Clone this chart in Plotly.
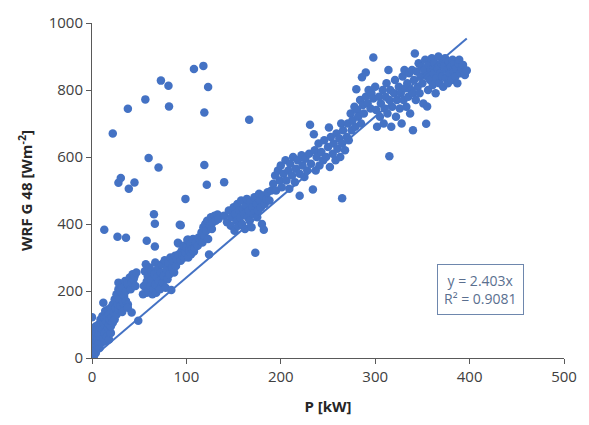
import plotly.graph_objects as go

outliers = [
    (13, 383), (22, 670), (38, 744), (28, 523), (30.5, 537), (39, 505), (45, 524),
    (27, 362), (36, 359), (56.5, 772), (60, 597), (70.5, 569), (73, 828), (81, 813),
    (81.6, 751), (65.6, 429), (66.6, 401), (58, 350), (66.6, 333), (99, 475),
    (94, 396), (91.6, 342), (102, 353), (108, 863), (118, 872), (123, 809),
    (119, 733), (119, 576), (121.6, 517), (140, 525), (166.5, 711),
]

band_low = [
    (0, 0), (0, 8), (0, 20), (0, 35), (0, 122), (0.5, 50), (1, 12), (1, 28), (1, 60),
    (1.5, 40), (2, 5), (2, 18), (2, 70), (2.5, 45), (3, 30), (3, 55), (3, 82), (4, 15),
    (4, 40), (4, 65), (4, 95), (5, 25), (5, 50), (5, 75), (6, 35), (6, 60), (6, 88),
    (7, 45), (7, 70), (7, 100), (8, 30), (8, 55), (8, 80), (9, 62), (9, 90), (9, 115),
    (10, 45), (10, 72), (10, 100), (11, 85), (11, 125), (12, 60), (12, 165), (12, 105),
    (13, 75), (13, 120), (14, 50), (14, 95), (14, 140), (15, 80), (15, 110), (16, 65),
    (16, 125), (17, 90), (17, 145), (18, 55), (18, 100), (18, 130), (19, 115), (20, 75),
    (20, 95), (20, 150), (21, 120), (22, 105), (22, 160), (23, 135), (24, 115),
    (24, 175), (25, 150), (26, 130), (26, 190), (27, 160), (28, 145), (28, 205),
    (29, 175), (30, 155), (30, 215), (28, 225), (30, 200), (32, 210), (34, 185),
    (35, 230), (36, 200), (38, 220), (40, 240), (41, 205), (42, 225), (43, 250),
    (44, 235), (45, 244), (46, 215), (47, 255), (33, 165), (36, 170), (38, 160),
    (32, 137), (42, 136), (49, 111), (38, 150),
]

band_mid = [
    (54, 190), (55, 215), (56, 259), (57, 280), (58, 195), (58, 228), (59, 245),
    (60, 200), (61, 270), (62, 215), (63, 232), (63, 260), (64, 190), (65, 205),
    (66, 250), (67, 285), (67, 220), (68, 195), (69, 240), (70, 268), (70, 215),
    (71, 230), (72, 205), (73, 255), (74, 280), (75, 225), (76, 245), (77, 292),
    (78, 210), (79, 265), (80, 235), (81, 285), (82, 250), (83, 300), (84, 203),
    (85, 270), (86, 290), (87, 255), (88, 305), (89, 275), (90, 295),
    (91, 344), (92, 310), (93, 398), (94, 290), (95, 320), (96, 305), (97, 335),
    (98, 300), (99, 315), (100, 330), (101, 353), (102, 300), (103, 320), (104, 340),
    (105, 310), (106, 325), (107, 355), (108, 318), (109, 329), (110, 345), (112, 335),
    (113, 360), (115, 350), (116, 375), (117, 345), (118, 390), (119, 365), (120, 400),
    (121, 380), (122, 410), (123, 355), (124, 309), (125, 395), (126, 420), (127, 385),
    (128, 405), (130, 425), (131, 410), (133, 428), (134, 415),
    (140, 425), (143, 405), (145, 440), (147, 395), (148, 420), (150, 450), (151, 380),
    (152, 430), (153, 410), (154, 460), (155, 395), (156, 440), (157, 420), (158, 470),
    (159, 400), (160, 445), (161, 430), (162, 385), (163, 455), (164, 475), (165, 420),
    (166, 440), (167, 410), (168, 465), (169, 390), (170, 450), (171, 430), (172, 480),
    (173, 314), (174, 460), (175, 420), (176, 440), (177, 490), (178, 470), (179, 450),
    (180, 400), (181, 485), (182, 383), (183, 460), (185, 475), (186, 495), (188, 470),
    (190, 500),
]

band_upper = [
    (192, 520), (194, 545), (195, 500), (197, 560), (199, 530), (200, 575), (201, 510),
    (203, 550), (205, 590), (206, 530), (208, 560), (209, 505), (210, 580), (212, 545),
    (213, 600), (215, 525), (216, 565), (218, 590), (220, 484), (220, 550), (222, 605),
    (223, 575), (225, 540), (226, 595), (228, 560), (230, 610),
    (231, 696), (232, 580), (234, 503), (235, 668), (236, 620), (237, 560), (238, 600),
    (240, 640), (241, 575), (243, 615), (245, 590), (246, 650), (248, 600), (250, 630),
    (251, 688), (252, 570), (253, 660), (255, 610), (256, 640), (258, 590), (259, 670),
    (260, 625), (262, 655), (263, 600), (264, 700), (265, 477), (265, 640), (266, 680),
    (268, 620), (270, 660),
    (271, 700), (272, 650), (274, 730), (275, 680), (276, 710), (278, 750), (279, 690),
    (280, 802), (281, 740), (282, 720), (284, 770), (285, 700), (286, 838), (287, 755),
    (288, 730), (290, 852), (290, 780), (292, 760), (293, 800), (295, 745), (296, 790),
    (298, 897), (298, 775), (300, 810),
]

band_high = [
    (301, 740), (302, 690), (304, 780), (305, 720), (306, 760), (308, 800), (309, 700),
    (310, 745), (311, 780), (312, 820), (313, 730), (314, 860), (315, 602), (315, 770),
    (316, 800), (317, 690), (318, 750), (320, 790), (321, 830), (322, 720), (323, 770),
    (325, 810), (326, 745), (327, 790), (328, 700), (329, 840), (330, 770), (331, 860),
    (332, 805), (333, 750), (334, 820), (335, 780), (336, 850), (337, 730), (338, 800),
    (339, 860), (340, 680), (340, 790),
    (341, 830), (342, 909), (343, 770), (344, 855), (345, 810), (346, 880), (347, 790),
    (348, 840), (349, 870), (350, 820), (351, 760), (352, 860), (353, 890), (354, 699),
    (355, 751), (355, 840), (356, 800), (357, 875), (358, 830), (359, 860), (360, 895),
    (361, 815), (362, 850), (363, 880), (364, 790), (365, 835), (366, 865), (367, 900),
    (368, 820), (369, 850), (370, 880), (371, 840), (372, 810), (373, 870), (374, 895),
    (375, 835), (376, 860), (377, 820), (378, 885), (379, 850), (380, 870), (381, 830),
    (382, 890), (383, 855), (384, 877), (385, 840), (386, 865), (387, 820), (388, 880),
    (389, 890), (390, 850), (392, 862), (393, 875), (395, 845), (397, 858),
]

trend_slope = 2.403
trend_x = [0, 397]
r2_text = "0.9081"

x_ticks = [0, 100, 200, 300, 400, 500]
y_ticks = [0, 200, 400, 600, 800, 1000]

points = outliers + band_low + band_mid + band_upper + band_high
px = [p[0] for p in points]
py = [p[1] for p in points]

BLUE = "#4472C4"
AXIS = "#595959"
FONT = "Open Sans"

fig = go.Figure()
fig.add_trace(go.Scatter(
    x=px, y=py, mode="markers",
    marker=dict(color=BLUE, size=8.5, line=dict(width=0)),
    showlegend=False, hoverinfo="x+y",
))
fig.add_trace(go.Scatter(
    x=trend_x, y=[trend_slope * v for v in trend_x], mode="lines",
    line=dict(color=BLUE, width=2), showlegend=False, hoverinfo="skip",
))

fig.add_annotation(
    x=412, y=205, xref="x", yref="y",
    text=f"y = {trend_slope}x<br>R² = {r2_text}",
    showarrow=False, align="center",
    font=dict(family=FONT, size=14, color="#5A6F8F"),
    bordercolor="#6E87AD", borderwidth=1, borderpad=6, bgcolor="white",
)

fig.update_xaxes(
    range=[0, 500], tickvals=x_ticks, ticks="outside", ticklen=5, tickcolor=AXIS,
    showline=True, linecolor=AXIS, linewidth=1, showgrid=False, zeroline=False,
    tickfont=dict(family=FONT, size=15, color="#404040"),
    title=dict(text="<b>P [kW]</b>", font=dict(family=FONT, size=15, color="#262626"),
               standoff=16),
)
fig.update_yaxes(
    range=[0, 1000], tickvals=y_ticks, ticks="outside", ticklen=5, tickcolor=AXIS,
    showline=True, linecolor=AXIS, linewidth=1, showgrid=False, zeroline=False,
    tickfont=dict(family=FONT, size=15, color="#404040"),
    title=dict(text="<b>WRF G 48 [Wm<sup>-2</sup>]</b>",
               font=dict(family=FONT, size=15, color="#262626"), standoff=12),
)

fig.update_layout(
    width=589, height=425,
    margin=dict(l=92, r=18, t=22, b=66),
    plot_bgcolor="white", paper_bgcolor="white",
)

fig.write_html("out.html")
